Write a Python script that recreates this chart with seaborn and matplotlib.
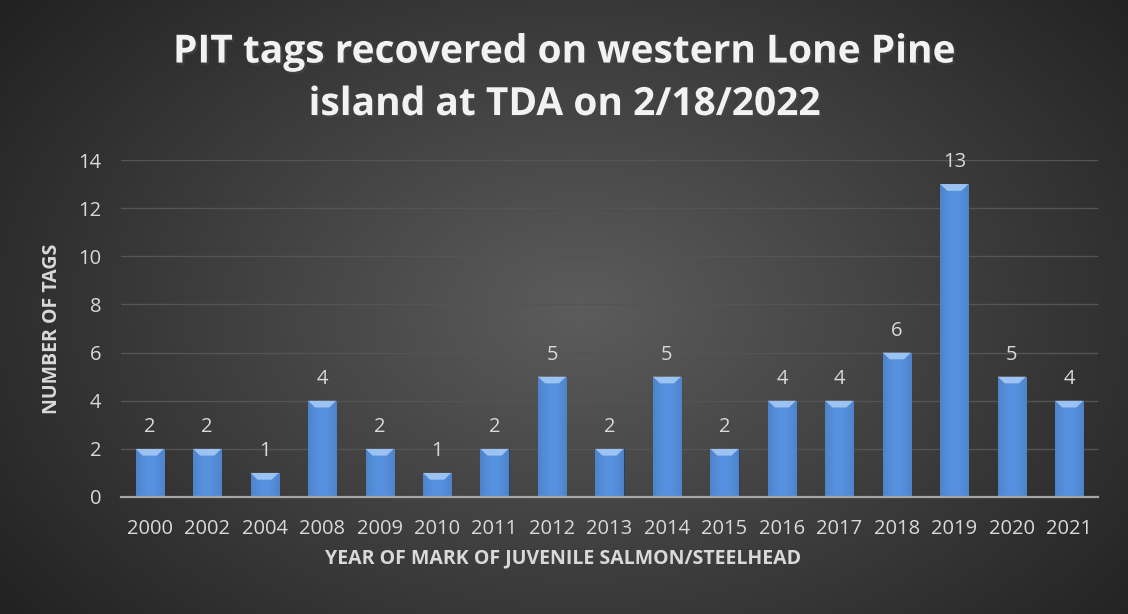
import numpy as np
import pandas as pd
import matplotlib
matplotlib.use("Agg")
import matplotlib.pyplot as plt
import seaborn as sns
from matplotlib import patheffects as pe

years = ["2000", "2002", "2004", "2008", "2009", "2010", "2011", "2012", "2013",
         "2014", "2015", "2016", "2017", "2018", "2019", "2020", "2021"]
tags = [2, 2, 1, 4, 2, 1, 2, 5, 2, 5, 2, 4, 4, 6, 13, 5, 4]
yticks = [0, 2, 4, 6, 8, 10, 12, 14]
title = "PIT tags recovered on western Lone Pine\nisland at TDA on 2/18/2022"
xlabel = "YEAR OF MARK OF JUVENILE SALMON/STEELHEAD"
ylabel = "NUMBER OF TAGS"

df = pd.DataFrame({"year": years, "tags": tags})

sns.set_theme(style="dark")
plt.rcParams["font.family"] = ["Open Sans", "DejaVu Sans"]
txt = "#d9d9d9"

fig = plt.figure(figsize=(11.28, 6.14), dpi=100)

# radial gradient background
bg = fig.add_axes([0, 0, 1, 1], zorder=-10)
yy, xx = np.mgrid[0:614, 0:1128]
r = np.sqrt(((xx - 580) / 700.0) ** 2 + ((yy - 310) / 480.0) ** 2)
val = np.clip(0.36 - 0.22 * r, 0.13, 0.4)
bg.imshow(np.dstack([val, val, val]), aspect="auto", extent=[0, 1, 0, 1], origin="upper")
bg.set_axis_off()

ax = fig.add_axes([121 / 1128, 1 - 497 / 614, (1098 - 121) / 1128, (497 - 160) / 614])
ax.set_facecolor("none")
sns.barplot(data=df, x="year", y="tags", color="#4f84c9", width=0.49, ax=ax,
            saturation=1, edgecolor="#1f3b66", linewidth=0.6)

# bevel / gradient effect on each bar
grad = np.linspace(0, 1, 64)
shade = 1 - 0.9 * np.abs(grad - 0.5) ** 1.5
for p in ax.patches:
    x0, y0 = p.get_x(), p.get_y()
    w, h = p.get_width(), p.get_height()
    base = np.array([0.31, 0.52, 0.80])
    img = np.clip(base[None, None, :] * (0.75 + 0.35 * shade[None, :, None]), 0, 1)
    im = ax.imshow(img, extent=[x0, x0 + w, y0, y0 + h], aspect="auto", zorder=3)
    im.set_clip_path(p)
    # top bevel highlight
    bh = 0.28
    ax.fill([x0, x0 + w, x0 + w * 0.75, x0 + w * 0.25], [h, h, h - bh, h - bh],
            color="#a9cdf5", alpha=0.85, zorder=4, lw=0)
    ax.text(x0 + w / 2, h + 0.5, f"{int(h)}", ha="center", va="bottom",
            color=txt, fontsize=14.5, zorder=5)

ax.set_xlim(-0.5, len(years) - 0.5)
ax.set_ylim(0, 14)
ax.set_yticks(yticks)
ax.set_yticklabels([str(t) for t in yticks], color=txt, fontsize=14.5)
ax.tick_params(axis="x", colors=txt, labelsize=14.5, length=0, pad=16)
ax.tick_params(axis="y", colors=txt, length=0, pad=14)
ax.grid(axis="y", color="#545454", linewidth=1.0)
ax.set_axisbelow(True)
for s in ["top", "right", "left"]:
    ax.spines[s].set_visible(False)
ax.spines["bottom"].set_color("#a6a6a6")
ax.spines["bottom"].set_linewidth(1.6)
ax.spines["bottom"].set_zorder(6)
ax.set_xlabel(xlabel, color=txt, fontsize=14, fontweight="bold", labelpad=7)
ax.xaxis.label.set_x((563 - 121) / 977)
ax.set_ylabel(ylabel, color=txt, fontsize=14, fontweight="bold", labelpad=12)

fig.text(0.5, 0.947, title, ha="center", va="top", color="#f2f2f2",
         fontsize=28, fontweight="bold", linespacing=1.45,
         path_effects=[pe.withSimplePatchShadow(offset=(1.5, -1.5), alpha=0.6)])

fig.savefig("out.png", dpi=100)
